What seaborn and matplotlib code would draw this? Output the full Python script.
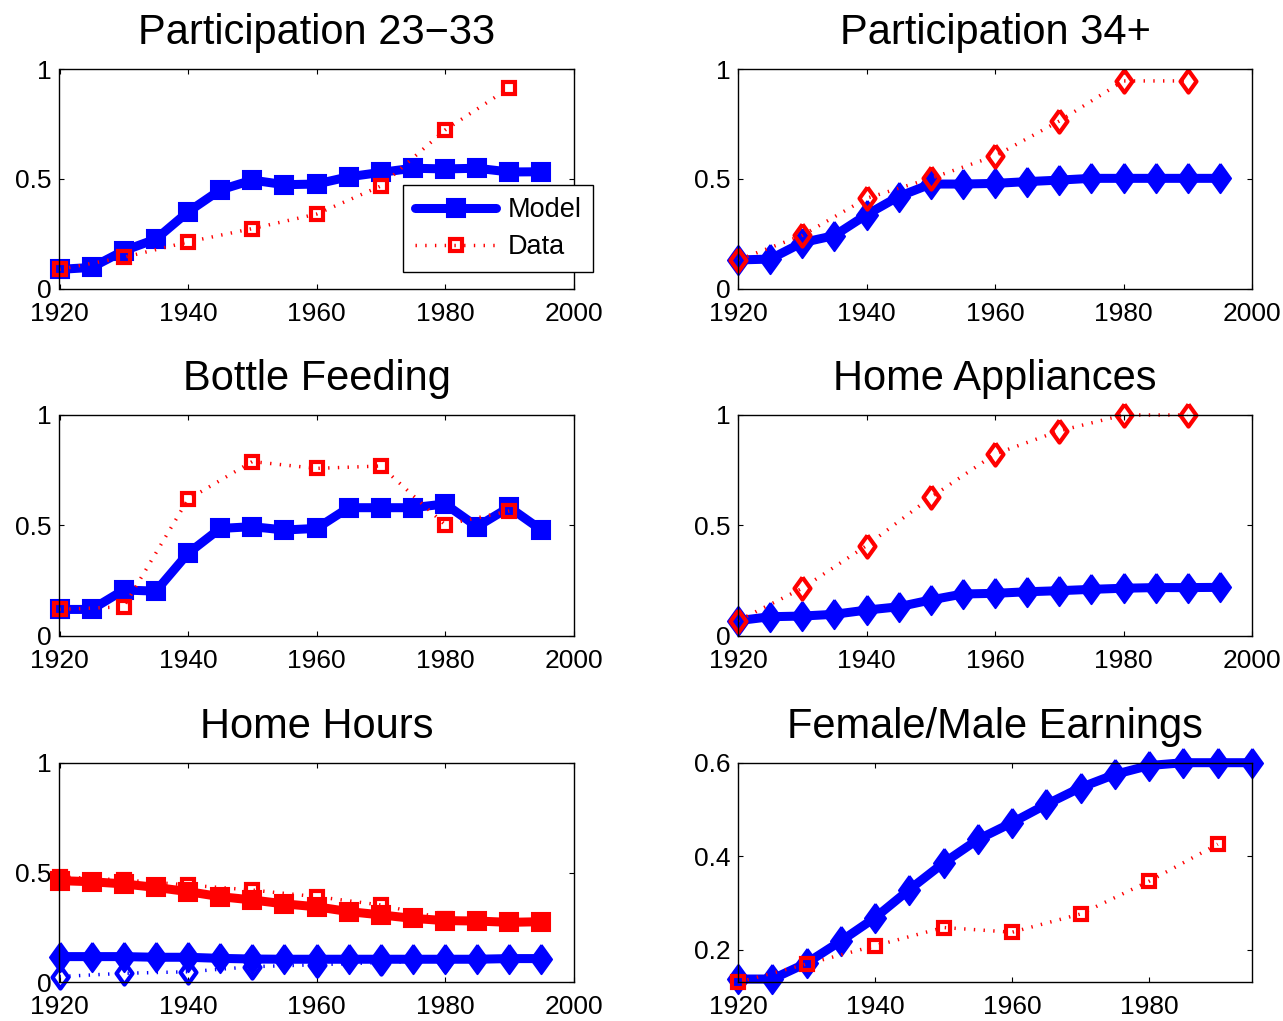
import matplotlib as mpl
mpl.use("Agg")
import matplotlib.pyplot as plt
import seaborn as sns
import numpy as np

# years: model every 5 years, data every 10 years
model_years = [1920, 1925, 1930, 1935, 1940, 1945, 1950, 1955,
               1960, 1965, 1970, 1975, 1980, 1985, 1990, 1995]
data_years = [1920, 1930, 1940, 1950, 1960, 1970, 1980, 1990]

# Participation 23-33
part_young_model = [0.088, 0.097, 0.173, 0.226, 0.350, 0.450, 0.495, 0.474,
                    0.477, 0.510, 0.530, 0.549, 0.546, 0.549, 0.532, 0.533]
part_young_data = [0.088, 0.143, 0.213, 0.274, 0.340, 0.468, 0.723, 0.915]

# Participation 34+
part_old_model = [0.131, 0.135, 0.210, 0.242, 0.337, 0.420, 0.477, 0.477,
                  0.480, 0.488, 0.495, 0.503, 0.503, 0.503, 0.503, 0.503]
part_old_data = [0.131, 0.243, 0.412, 0.503, 0.605, 0.764, 0.947, 0.947]

# Bottle feeding
bottle_model = [0.119, 0.119, 0.207, 0.202, 0.373, 0.486, 0.494, 0.479,
                0.486, 0.580, 0.580, 0.580, 0.597, 0.494, 0.582, 0.479]
bottle_data = [0.119, 0.131, 0.618, 0.789, 0.758, 0.769, 0.503, 0.565]

# Home appliances
appl_model = [0.068, 0.086, 0.089, 0.097, 0.116, 0.131, 0.162, 0.189,
              0.192, 0.199, 0.204, 0.210, 0.215, 0.218, 0.218, 0.219]
appl_data = [0.068, 0.215, 0.408, 0.627, 0.823, 0.928, 1.0, 1.0]

# Home hours (two groups)
hours_a_model = [0.463, 0.458, 0.448, 0.432, 0.413, 0.390, 0.375, 0.357,
                 0.344, 0.322, 0.307, 0.291, 0.281, 0.279, 0.273, 0.276]
hours_a_data = [0.480, 0.466, 0.443, 0.420, 0.390, 0.352, 0.290, 0.280]
hours_b_model = [0.117, 0.117, 0.117, 0.114, 0.114, 0.109, 0.106, 0.105,
                 0.105, 0.105, 0.105, 0.105, 0.105, 0.105, 0.108, 0.108]
hours_b_data = [0.026, 0.041, 0.048, 0.071, 0.080, 0.090, 0.100, 0.105]

# Female/Male earnings
earn_model = [0.138, 0.138, 0.172, 0.219, 0.269, 0.329, 0.386, 0.436,
              0.472, 0.511, 0.547, 0.575, 0.594, 0.600, 0.600, 0.600]
earn_data = [0.131, 0.170, 0.209, 0.248, 0.238, 0.277, 0.347, 0.426]

sns.set_style("ticks", {"xtick.direction": "in", "ytick.direction": "in",
                        "axes.edgecolor": "black", "text.color": "black",
                        "xtick.color": "black", "ytick.color": "black"})
plt.rcParams['font.family'] = ['Liberation Sans', 'DejaVu Sans']

diamond = [(0, 0.5), (0.36, 0), (0, -0.5), (-0.36, 0), (0, 0.5)]
dots = (0, (0.4, 2.4))


def model_line(ax, y, color, marker, ms, label=None):
    sns.lineplot(x=np.array(model_years), y=np.array(y), ax=ax, color=color,
                 marker=marker, markersize=ms, markeredgewidth=1.5,
                 markeredgecolor=color, markerfacecolor=color,
                 linewidth=6.5, clip_on=False, errorbar=None, legend=False,
                 label=label)


def data_line(ax, y, color, marker, ms, label=None):
    sns.lineplot(x=np.array(data_years), y=np.array(y), ax=ax, color=color,
                 marker=marker, markersize=ms, markeredgewidth=3,
                 markeredgecolor=color, markerfacecolor='none',
                 linewidth=2.5, linestyle=dots, clip_on=False,
                 errorbar=None, legend=False, label=label)


fig = plt.figure(figsize=(12.83, 10.21), dpi=100)
W, H = 1283, 1021
lefts = [59.5, 738]
rows = [(69.3, 288.7), (415, 635.7), (762.7, 982.3)]
axes = []
for top, bot in rows:
    for lx in lefts:
        ax = fig.add_axes([lx / W, 1 - bot / H, 514 / W, (bot - top) / H])
        axes.append(ax)

titles = ['Participation 23\u221233', 'Participation 34+', 'Bottle Feeding',
          'Home Appliances', 'Home Hours', 'Female/Male Earnings']

ax = axes[0]
model_line(ax, part_young_model, 'blue', 's', 13, 'Model')
data_line(ax, part_young_data, 'red', 's', 8.5, 'Data')

ax = axes[1]
model_line(ax, part_old_model, 'blue', diamond, 21)
data_line(ax, part_old_data, 'red', diamond, 16)

ax = axes[2]
model_line(ax, bottle_model, 'blue', 's', 13)
data_line(ax, bottle_data, 'red', 's', 8.5)

ax = axes[3]
model_line(ax, appl_model, 'blue', diamond, 21)
data_line(ax, appl_data, 'red', diamond, 16)

ax = axes[4]
model_line(ax, hours_a_model, 'red', 's', 13)
data_line(ax, hours_a_data, 'red', 's', 8.5)
model_line(ax, hours_b_model, 'blue', diamond, 21)
data_line(ax, hours_b_data, 'blue', diamond, 16)

ax = axes[5]
model_line(ax, earn_model, 'blue', diamond, 21)
data_line(ax, earn_data, 'red', 's', 8.5)

for ax, t in zip(axes, titles):
    ax.set_title(t, fontsize=30, pad=18)
    ax.set_xlim(1920, 2000)
    ax.set_ylim(0, 1)
    ax.set_xticks([1920, 1940, 1960, 1980, 2000])
    ax.set_yticks([0, 0.5, 1])
    ax.set_yticklabels(['0', '0.5', '1'])
    for s in ax.spines.values():
        s.set_visible(True)
        s.set_linewidth(1.0)
        s.set_color('black')
    ax.tick_params(direction='in', top=True, right=True, length=3.6,
                   width=0.8, labelsize=19)
    ax.tick_params(axis='x', pad=9.5)
    ax.tick_params(axis='y', pad=5.5)

axes[5].set_xlim(1920, 1995)
axes[5].set_ylim(0.131, 0.6)
axes[5].set_xticks([1920, 1940, 1960, 1980])
axes[5].set_yticks([0.2, 0.4, 0.6])
axes[5].set_yticklabels(['0.2', '0.4', '0.6'])

lines = axes[0].get_lines()
axes[0].legend(lines[:2], ['Model', 'Data'], loc='upper left',
               bbox_to_anchor=(403 / W, 1 - 185 / H),
               bbox_transform=fig.transFigure, fontsize=19.5, fancybox=False,
               framealpha=1, edgecolor='black', handlelength=3.0,
               handletextpad=0.4, borderpad=0.45, labelspacing=0.4,
               borderaxespad=0)
axes[0].get_legend().get_frame().set_linewidth(1.0)

fig.savefig('out.png', dpi=100)
